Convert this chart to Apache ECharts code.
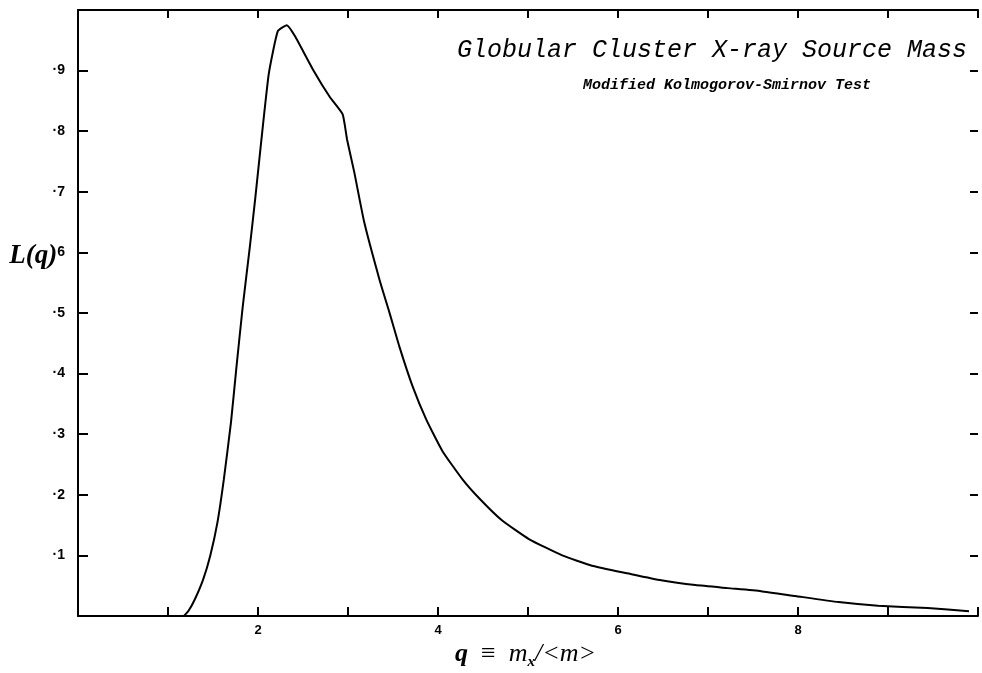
<!DOCTYPE html>
<html>
<head>
<meta charset="utf-8">
<script src="https://cdn.jsdelivr.net/npm/echarts@6/dist/echarts.min.js"></script>
<style>html,body{margin:0;padding:0;background:#fff;}#c{width:982px;height:673px;}</style>
</head>
<body>
<div id="c"></div>
<script>
const qValues = [1.05, 1.17, 1.23, 1.30, 1.39, 1.47, 1.55, 1.62, 1.70, 1.76, 1.83, 1.91, 1.97, 2.03, 2.12, 2.22, 2.32, 2.41, 2.61, 2.80, 2.94, 2.99, 3.07, 3.18, 3.35, 3.46, 3.57, 3.72, 3.87, 4.05, 4.27, 4.46, 4.71, 5.01, 5.38, 5.71, 6.12, 6.48, 6.86, 7.22, 7.59, 7.97, 8.45, 8.89, 9.44, 9.9];
const lValues = [0, 0, 0.009, 0.028, 0.06, 0.10, 0.155, 0.225, 0.32, 0.41, 0.51, 0.61, 0.69, 0.775, 0.895, 0.965, 0.975, 0.957, 0.902, 0.856, 0.828, 0.786, 0.732, 0.65, 0.555, 0.501, 0.445, 0.378, 0.324, 0.272, 0.226, 0.194, 0.158, 0.127, 0.100, 0.083, 0.070, 0.059, 0.051, 0.046, 0.041, 0.033, 0.023, 0.017, 0.013, 0.008];
const xTickLabels = {2: '2', 4: '4', 6: '6', 8: '8'};
const yTickLabels = {1: '·1', 2: '·2', 3: '·3', 4: '·4', 5: '·5', 6: '{a|L(q)}{b|6}', 7: '·7', 8: '·8', 9: '·9'};
const titleText = 'Globular Cluster X-ray Source Mass';
const subtitleText = 'Modified Kolmogorov-Smirnov Test';

const chart = echarts.init(document.getElementById('c'));
const lineSt = {color: '#000', width: 2};
const labelFont = {color: '#000', fontWeight: 'bold', fontSize: 14, fontFamily: 'Liberation Sans'};
chart.setOption({
  animation: false,
  backgroundColor: '#fff',
  grid: {left: 78, right: 4, top: 10, bottom: 57},
  xAxis: [
    {type: 'value', min: 0, max: 10, interval: 1, position: 'bottom',
     axisLine: {onZero: false, lineStyle: lineSt},
     axisTick: {inside: true, length: 9, lineStyle: lineSt},
     splitLine: {show: false},
     axisLabel: Object.assign({margin: 8, formatter: v => xTickLabels[Math.round(v)] || ''}, labelFont, {fontSize: 13})},
    {type: 'value', min: 0, max: 10, interval: 1, position: 'top',
     axisLine: {onZero: false, lineStyle: lineSt},
     axisTick: {inside: true, length: 8, lineStyle: lineSt},
     splitLine: {show: false}, axisLabel: {show: false}}
  ],
  yAxis: [
    {type: 'value', min: 0, max: 1, interval: 0.1, position: 'left',
     axisLine: {onZero: false, lineStyle: lineSt},
     axisTick: {inside: true, length: 10, lineStyle: lineSt},
     splitLine: {show: false},
     axisLabel: Object.assign({margin: 13, formatter: v => yTickLabels[Math.round(v * 10)] || '',
       rich: {
         a: {fontFamily: 'Liberation Serif', fontStyle: 'italic', fontWeight: 'bold', fontSize: 27, color: '#000', padding: [8, 0, 0, 0]},
         b: {fontFamily: 'Liberation Sans', fontWeight: 'bold', fontSize: 14, color: '#000'}
       }}, labelFont)},
    {type: 'value', min: 0, max: 1, interval: 0.1, position: 'right',
     axisLine: {show: false, onZero: false},
     axisTick: {show: true, inside: true, length: 8, lineStyle: lineSt},
     splitLine: {show: false}, axisLabel: {show: false}}
  ],
  series: [{
    type: 'line', xAxisIndex: 0, yAxisIndex: 0,
    data: qValues.map((q, i) => [q, lValues[i]]),
    showSymbol: false, symbol: 'none', smooth: 0.15,
    lineStyle: {color: '#000', width: 2}
  }],
  graphic: [
    {type: 'text', left: 457, top: 38,
     style: {text: titleText, fontFamily: 'Liberation Mono', fontStyle: 'italic', fontSize: 25, fill: '#000'}},
    {type: 'text', left: 583, top: 78,
     style: {text: subtitleText, fontFamily: 'Liberation Mono', fontStyle: 'italic', fontWeight: 'bold', fontSize: 15, fill: '#000'}},
    {type: 'text', left: 455, top: 641,
     style: {
       text: '{q|q}{s|  ≡  }{m|m}{x|x}{m|/<m>}',
       rich: {
         q: {fontFamily: 'Liberation Serif', fontStyle: 'italic', fontWeight: 'bold', fontSize: 26, fill: '#000'},
         s: {fontFamily: 'Liberation Serif', fontSize: 26, fill: '#000'},
         m: {fontFamily: 'Liberation Serif', fontStyle: 'italic', fontSize: 26, fill: '#000'},
         x: {fontFamily: 'Liberation Serif', fontStyle: 'italic', fontWeight: 'bold', fontSize: 15, fill: '#000', padding: [16, 0, 0, 0]}
       }
     }}
  ]
});
</script>
</body>
</html>
